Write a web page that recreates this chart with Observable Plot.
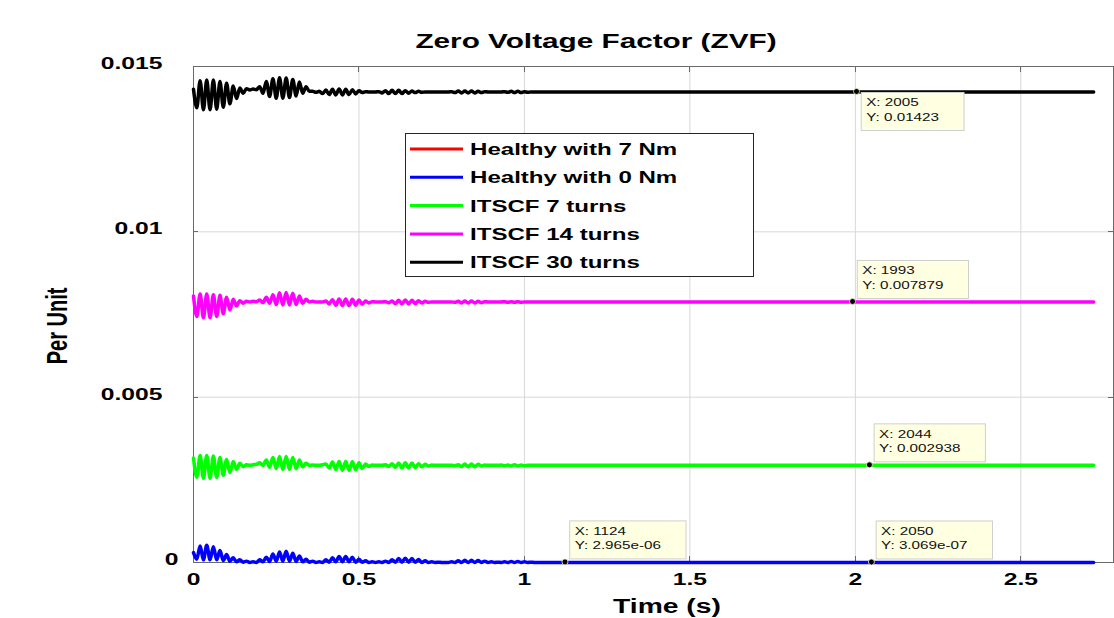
<!DOCTYPE html>
<html><head><meta charset="utf-8">
<script src="https://cdn.jsdelivr.net/npm/d3@7"></script>
<script src="https://cdn.jsdelivr.net/npm/@observablehq/plot@0.6"></script>
<style>html,body{margin:0;padding:0;background:#fff;} svg{display:block}</style>
</head><body>
<script>
// ---------- data ----------
const titleText = "Zero Voltage Factor (ZVF)";
const xLabelText = "Time (s)";
const yLabelText = "Per Unit";
const seriesNames = ["Healthy with 7 Nm", "Healthy with 0 Nm", "ITSCF 7 turns", "ITSCF 14 turns", "ITSCF 30 turns"];
const seriesColors = ["#ff0000", "#0000ff", "#00ff00", "#ff00ff", "#000000"];
const xTickValues = [0, 0.5, 1, 1.5, 2, 2.5];
const xTickLabels = ["0", "0.5", "1", "1.5", "2", "2.5"];
const yTickValues = [0, 0.005, 0.01, 0.015];
const yTickLabels = ["0", "0.005", "0.01", "0.015"];

const sampleStep = 0.01;   // s between read extrema
const endTime = 2.72;      // s, end of simulation
// steady-state values (per unit)
const steadyBlue = 0;
const steadyGreen = 0.002938;
const steadyMagenta = 0.007879;
const steadyBlack = 0.01423;
// red trace (hidden under the blue one): visible samples
const redTimes = [1.1, 2.72];
const redValues = [0, 0];
// deviations from steady state, in 1e-5 per unit, read every 0.01 s from t = 0 to 1.10 s
const devBlue = [30,10,50,8,52,8,48,8,36,6,
 24,4,14,2,8,1,4,0,2,0,
 8,2,16,3,26,4,32,4,34,4,
 28,3,20,2,10,1,4,0,2,0,
 8,1,14,2,18,2,18,2,16,1,
 10,1,5,0,2,0,2,0,4,0,
 8,1,12,1,13,1,12,1,9,0,
 5,0,2,0,1,0,0,0,2,0,
 5,0,7,0,7,0,6,0,4,0,
 2,0,1,0,2,0,3,0,3,0,
 2,0,1,0,0,0,0,0,0,0,0];
const devGreen = [22,-36,30,-39,30,-39,28,-36,24,-30,
 18,-22,12,-12,6,-4,2,0,2,3,
 8,0,16,-6,24,-10,27,-12,27,-12,
 24,-10,16,-4,6,0,1,0,0,2,
 4,-8,10,-13,12,-15,12,-15,11,-13,
 8,-9,4,-3,1,0,0,0,2,-3,
 5,-6,7,-8,8,-8,7,-7,5,-4,
 3,-2,1,0,0,0,0,0,0,-1,
 2,-4,4,-4,4,-4,3,-2,1,0,
 0,0,0,1,-1,1,-2,2,-2,1,
 -1,0,0,0,0,0,0,0,0,0,0];
const devMagenta = [18,-44,24,-48,24,-48,22,-44,20,-36,
 14,-24,8,-12,4,-4,2,0,2,1,
 6,-2,14,-4,22,-8,28,-9,29,-9,
 26,-8,18,-4,8,0,2,0,0,0,
 3,-6,7,-10,9,-11,9,-11,8,-10,
 6,-7,3,-3,1,0,0,0,1,-2,
 3,-5,5,-6,6,-6,5,-5,4,-3,
 2,-1,0,0,0,0,0,0,0,-1,
 2,-3,3,-3,3,-3,2,-2,1,0,
 0,0,0,0,1,-1,1,-1,1,-1,
 0,0,0,0,0,0,0,0,0,0,0];
const devBlack = [8,-48,34,-54,36,-54,36,-52,32,-46,
 26,-36,18,-20,12,-4,10,6,9,7,
 16,-4,32,-14,40,-19,43,-19,42,-17,
 38,-12,30,-4,16,2,2,-1,2,-5,
 6,-8,8,-9,9,-9,8,-8,7,-6,
 4,-2,1,0,0,0,1,-3,4,-5,
 5,-5,5,-5,4,-4,3,-2,2,-1,
 0,0,0,0,0,0,0,0,1,-2,
 3,-3,3,-3,3,-3,2,-2,1,0,
 0,0,0,0,1,-1,2,-2,2,-2,
 1,-1,0,0,0,0,0,0,0,0,0];

// data tips (sample index X, value Y)
const tipX = [2005, 1993, 2044, 1124, 2050];
const tipY = [0.01423, 0.007879, 0.002938, 2.965e-06, 3.069e-07];
const tipPlace = ["below", "above", "above", "above", "above"];
const samplesPerSecond = 1000;

// ---------- build ----------
const SX = 1.45; // horizontal stretch of the original figure's text
const FONT = "'Liberation Sans', Arial, Helvetica, sans-serif";
const frameColor = "#6a6a6a";
const tipFont = 10.5;

function build(name, base, dev) {
  const rows = dev.map((d, i) => ({series: name, t: i * sampleStep, v: base + d * 1e-5}));
  rows.push({series: name, t: endTime, v: base});
  return rows;
}
const seriesRows = [
  redTimes.map((t, i) => ({series: seriesNames[0], t, v: redValues[i]})),
  build(seriesNames[1], steadyBlue, devBlue),
  build(seriesNames[2], steadyGreen, devGreen),
  build(seriesNames[3], steadyMagenta, devMagenta),
  build(seriesNames[4], steadyBlack, devBlack)
];

function fmtTip(v) {
  return v < 1e-4 ? v.toExponential(3).replace(/e-(\d)$/, "e-0$1") : String(v);
}
const measureCtx = document.createElement("canvas").getContext("2d");
function textW(s, size, weight) {
  measureCtx.font = `${weight || "normal"} ${size}px ${FONT}`;
  return measureCtx.measureText(s).width * SX;
}

function innerTicks(index, scales, values, dims) {
  const {x, y} = scales;
  const g = d3.create("svg:g").attr("stroke", frameColor).attr("stroke-width", 1);
  const top = dims.marginTop, bottom = dims.height - dims.marginBottom;
  const left = dims.marginLeft, right = dims.width - dims.marginRight;
  for (const v of xTickValues) {
    const px = Math.round(x(v)) + 0.5;
    g.append("line").attr("x1", px).attr("x2", px).attr("y1", bottom).attr("y2", bottom - 6);
    g.append("line").attr("x1", px).attr("x2", px).attr("y1", top).attr("y2", top + 6);
  }
  for (const v of yTickValues) {
    const py = Math.round(y(v)) + 0.5;
    g.append("line").attr("x1", left).attr("x2", left + 5).attr("y1", py).attr("y2", py);
    g.append("line").attr("x1", right).attr("x2", right - 5).attr("y1", py).attr("y2", py);
  }
  return g.node();
}

function labelsMark(index, scales, values, dims) {
  const g = d3.create("svg:g").attr("font-family", FONT).attr("font-weight", "bold").attr("fill", "#000");
  g.append("text").text(titleText).attr("x", 596).attr("y", 48).attr("text-anchor", "middle").attr("font-size", 20.5);
  g.append("text").text(xLabelText).attr("x", 667).attr("y", 613).attr("text-anchor", "middle").attr("font-size", 19.5);
  g.append("text").text(yLabelText).attr("class", "condensed")
    .attr("transform", "translate(57,326) rotate(-90)").attr("text-anchor", "middle").attr("dy", "0.36em")
    .attr("font-size", 20 * SX);
  return g.node();
}

function legendMark(index, scales, values, dims) {
  const g = d3.create("svg:g").attr("font-family", FONT).attr("text-anchor", "start");
  g.append("rect").attr("x", 405.5).attr("y", 133.5).attr("width", 348).attr("height", 143)
    .attr("fill", "#fff").attr("stroke", "#262626").attr("stroke-width", 1);
  seriesNames.forEach((name, i) => {
    const yy = 149 + 28.3 * i;
    g.append("line").attr("x1", 410).attr("x2", 463).attr("y1", yy).attr("y2", yy)
      .attr("stroke", seriesColors[i]).attr("stroke-width", 3);
    g.append("text").text(name).attr("x", 470).attr("y", yy).attr("dy", "0.36em")
      .attr("font-size", 16.6).attr("font-weight", "bold").attr("fill", "#000");
  });
  return g.node();
}

function tipsMark(index, scales) {
  const {x, y} = scales;
  const g = d3.create("svg:g").attr("font-family", FONT).attr("text-anchor", "start");
  tipX.forEach((X, i) => {
    const px = x(X / samplesPerSecond), py = y(tipY[i]);
    const l1 = `X: ${X}`, l2 = `Y: ${fmtTip(tipY[i])}`;
    const w = Math.max(textW(l1, tipFont), textW(l2, tipFont)) + 30;
    const h = 38;
    const bx = px + 4.7;
    const by = tipPlace[i] === "below" ? py + 1 : py - 3 - h;
    g.append("rect").attr("x", bx).attr("y", by).attr("width", w).attr("height", h)
      .attr("fill", "#ffffe1").attr("stroke", "#cfcfcf").attr("stroke-width", 1);
    g.append("text").text(l1).attr("x", bx + 5).attr("y", by + 14).attr("font-size", tipFont).attr("fill", "#111");
    g.append("text").text(l2).attr("x", bx + 5).attr("y", by + 28.5).attr("font-size", tipFont).attr("fill", "#111");
    g.append("circle").attr("cx", px).attr("cy", py).attr("r", 3)
      .attr("fill", "#000").attr("stroke", "#f4f4c8").attr("stroke-width", 0.8);
  });
  return g.node();
}

const lineMarks = seriesRows.map((rows, i) =>
  Plot.line(rows, {x: "t", y: "v", stroke: seriesColors[i], strokeWidth: i === 0 ? 2 : 3.5, curve: "monotone-x"}));

const yFmt = d => yTickLabels[yTickValues.indexOf(d)];
const chart = Plot.plot({
  width: 1114,
  height: 618,
  marginLeft: 193,
  marginRight: 1,
  marginTop: 66,
  marginBottom: 56,
  style: {fontFamily: FONT, background: "#fff", color: "#000"},
  x: {domain: [0, 2.78]},
  y: {domain: [0, 0.015]},
  marks: [
    Plot.gridX({ticks: xTickValues, stroke: "#d8d8d8", strokeOpacity: 1}),
    Plot.gridY({ticks: yTickValues, stroke: "#d8d8d8", strokeOpacity: 1}),
    Plot.frame({stroke: frameColor, strokeWidth: 1}),
    innerTicks,
    ...lineMarks,
    Plot.axisX({ticks: xTickValues, tickFormat: d => xTickLabels[xTickValues.indexOf(d)], tickSize: 0, tickPadding: 10,
      fontSize: 17, fontWeight: "bold", label: null}),
    Plot.axisY({ticks: yTickValues.filter(d => d !== 0), tickFormat: yFmt, tickSize: 0, tickPadding: 31,
      fontSize: 17, fontWeight: "bold", label: null, dy: -3}),
    Plot.axisY({ticks: yTickValues.filter(d => d === 0), tickFormat: yFmt, tickSize: 0, tickPadding: 15,
      fontSize: 17, fontWeight: "bold", label: null, dy: -3}),
    labelsMark,
    legendMark,
    tipsMark
  ]
});
document.body.appendChild(chart);

// stretch all text horizontally like the original (resized) figure
chart.querySelectorAll("text").forEach(t => {
  const L = t.getComputedTextLength();
  if (!L) return;
  const target = t.classList.contains("condensed") ? L / SX : L * SX;
  t.setAttribute("textLength", target);
  t.setAttribute("lengthAdjust", "spacingAndGlyphs");
});
</script>
</body></html>
